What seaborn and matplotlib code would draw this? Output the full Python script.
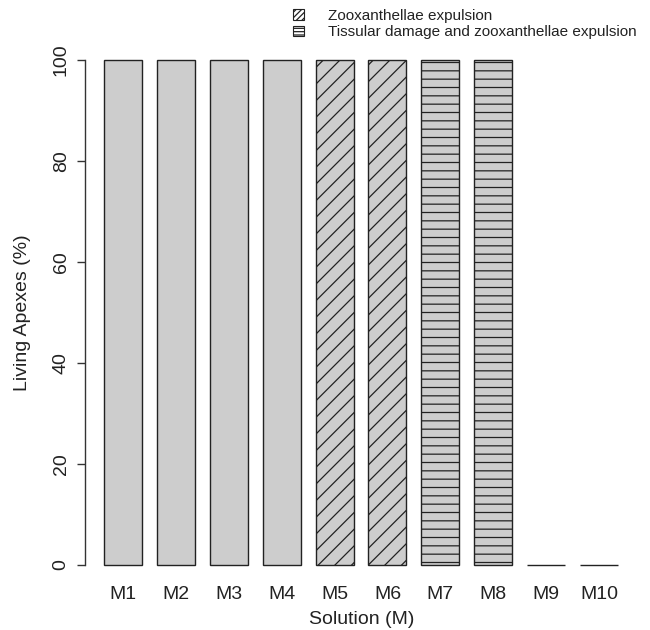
import matplotlib
matplotlib.use('Agg')
import matplotlib.pyplot as plt
import seaborn as sns
from matplotlib.patches import Patch

solutions = ['M1', 'M2', 'M3', 'M4', 'M5', 'M6', 'M7', 'M8', 'M9', 'M10']
living = [100, 100, 100, 100, 100, 100, 100, 100, 0, 0]
effect = ['none', 'none', 'none', 'none', 'zoox', 'zoox', 'tissue', 'tissue', 'none', 'none']
legend_labels = ['Zooxanthellae expulsion', 'Tissular damage and zooxanthellae expulsion']

hatches = {'none': '', 'zoox': '//', 'tissue': '--'}

sns.set_style('white')
plt.rcParams['font.family'] = ['Liberation Sans', 'DejaVu Sans']
plt.rcParams['hatch.linewidth'] = 0.9
plt.rcParams['hatch.color'] = '#222222'

fig = plt.figure(figsize=(6.5, 6.3), dpi=100)
ax = fig.add_axes([85 / 650, 45 / 630, 553 / 650, 545 / 630])

sns.barplot(x=solutions, y=living, color='#cdcdcd', saturation=1,
            edgecolor='#222222', linewidth=1.0, width=0.72, ax=ax)
for bar, eff in zip(ax.patches, effect):
    bar.set_hatch(hatches[eff])

ax.set_xlim(-0.718, 9.737)
ax.set_ylim(-4, 104)

for s in ['top', 'right', 'bottom']:
    ax.spines[s].set_visible(False)
ax.spines['left'].set_bounds(0, 100)
ax.spines['left'].set_color('#333333')
ax.spines['left'].set_linewidth(1.0)

ax.set_yticks([0, 20, 40, 60, 80, 100])
ax.tick_params(axis='y', left=True, direction='out', length=5.5, width=1.0, color='#333333',
               labelsize=14, labelcolor='#222222', pad=5.5)
for lab in ax.get_yticklabels():
    lab.set_rotation(90)
    lab.set_va('center')
ax.tick_params(axis='x', bottom=False, length=0, labelsize=14, labelcolor='#222222', pad=0.8)

ax.set_xlabel('Solution (M)', fontsize=14, color='#222222', labelpad=6)
ax.set_ylabel('Living Apexes (%)', fontsize=14, color='#222222', labelpad=16)

handles = [Patch(facecolor='white', edgecolor='#222222', hatch='//////', linewidth=0.8),
           Patch(facecolor='white', edgecolor='#222222', hatch='-----', linewidth=0.8)]
fig.legend(handles, legend_labels, loc='upper left', bbox_to_anchor=(284 / 650, 1.0),
           frameon=False, fontsize=11, handlelength=0.7, handleheight=0.7,
           handletextpad=1.55, labelspacing=0.15, borderaxespad=0.2,
           labelcolor='#222222')

fig.savefig('out.png', dpi=100)
